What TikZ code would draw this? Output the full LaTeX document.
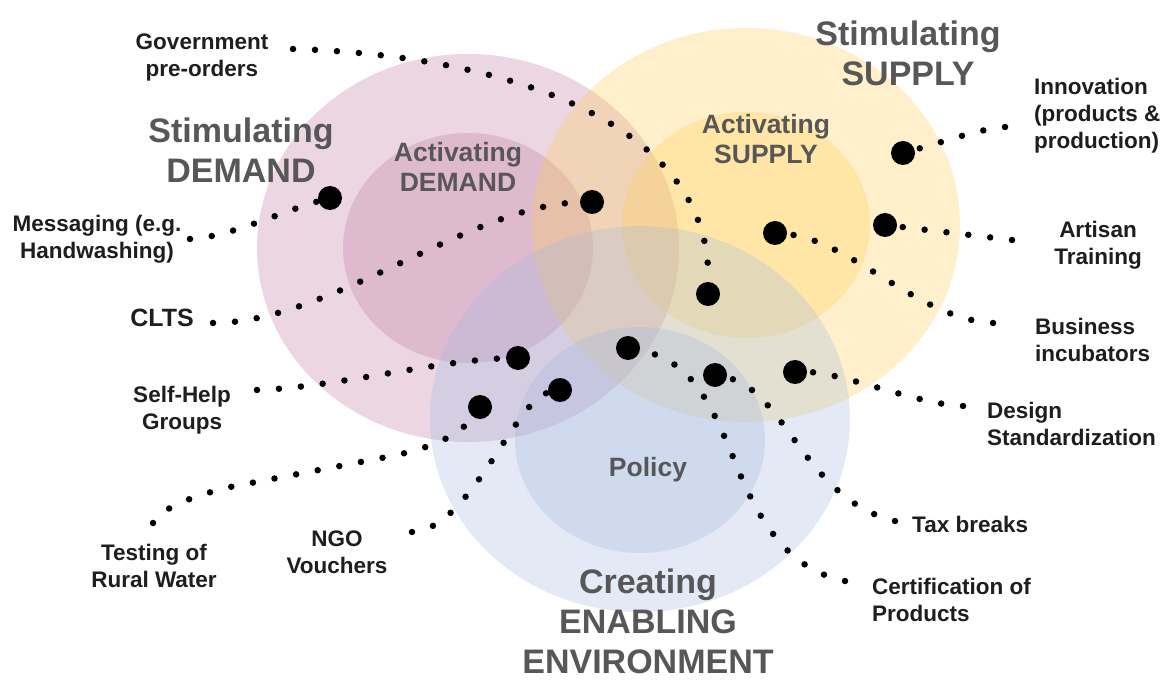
\documentclass[tikz,border=0pt]{standalone}
\usepackage{fontspec}
\setmainfont{Liberation Sans}
\definecolor{demandc}{HTML}{C07AA0}
\definecolor{supplyc}{HTML}{FFD055}
\definecolor{enablec}{HTML}{A5B9E1}
\definecolor{headc}{HTML}{575757}
\definecolor{labelc}{HTML}{1E1E1E}
\begin{document}
\begin{tikzpicture}[x=1pt,y=-1pt,
  dot/.style = {circle,fill=black,inner sep=0pt,minimum size=24pt},
  link/.style = {line width=6.5pt,line cap=round,dash pattern=on 0pt off 22pt},
  ring/.style = {fill opacity=0.3},
  circtitle/.style = {text=headc,font=\fontsize{34}{40}\selectfont\bfseries,align=center,inner sep=0pt},
  subtitle/.style = {text=headc,font=\fontsize{26.5}{30}\selectfont\bfseries,align=center,inner sep=0pt},
  itemlbl/.style = {text=labelc,font=\fontsize{22.5}{27}\selectfont\bfseries,inner sep=0pt}]
\fill[white] (0,0) rectangle (1162,684);
\useasboundingbox (0,0) rectangle (1162,684);

% the three pairs of rings
\fill[ring,demandc] (468,248) ellipse [x radius=211, y radius=194];
\fill[ring,demandc] (468,248) ellipse [x radius=125, y radius=115];
\fill[ring,supplyc] (746,225) ellipse [x radius=214, y radius=197];
\fill[ring,supplyc] (746,225) ellipse [x radius=124, y radius=113];
\fill[ring,enablec] (640,419) ellipse [x radius=210, y radius=193];
\fill[ring,enablec] (640,440) ellipse [x radius=125, y radius=113];

% titles
\node[circtitle] (t-demand) at (241,150) {Stimulating\\DEMAND};
\node[circtitle] (t-supply) at (908,53) {Stimulating\\SUPPLY};
\node[circtitle] (t-enable) at (648,621) {Creating\\ENABLING\\ENVIRONMENT};
\node[subtitle] (s-demand) at (458,167) {Activating\\DEMAND};
\node[subtitle] (s-supply) at (766,139) {Activating\\SUPPLY};
\node[subtitle] (s-policy) at (648,470) {Policy};

% activities
\foreach \n/\x/\y in {msg/330/198, clts/592/202, gov/708/294, inn/903/153,
                      art/885/225, biz/775/233, des/795/372, tax/715/375,
                      cert/628/348, shg/518/358, ngo/560/390, test/480/407}
    \node[dot] (d-\n) at (\x,\y) {};

\node[itemlbl,align=center] (l-gov) at (202,57) {Government\\pre-orders};
\node[itemlbl,align=center] (l-msg) at (97,239) {Messaging (e.g.\\Handwashing)};
\node[itemlbl,font=\fontsize{25}{30}\selectfont\bfseries] (l-clts) at (162,318) {CLTS};
\node[itemlbl,align=center] (l-shg) at (182,410) {Self-Help\\Groups};
\node[itemlbl,align=center] (l-test) at (154,566) {Testing of\\Rural Water};
\node[itemlbl,align=center] (l-ngo) at (337,552) {NGO\\Vouchers};
\node[itemlbl,align=left,anchor=west] (l-inn) at (1034,116) {Innovation\\(products \&\\production)};
\node[itemlbl,align=center] (l-art) at (1098,245) {Artisan\\Training};
\node[itemlbl,align=left,anchor=west] (l-biz) at (1035,340) {Business\\incubators};
\node[itemlbl,align=left,anchor=west] (l-des) at (987,424) {Design\\Standardization};
\node[itemlbl,anchor=west] (l-tax) at (912,524) {Tax breaks};
\node[itemlbl,align=left,anchor=west] (l-cert) at (872,600) {Certification of\\Products};

% loose ends of the dotted leads
\coordinate (e-gov) at (293,49);
\coordinate (e-msg) at (190,239);
\coordinate (e-clts) at (213,323);
\coordinate (e-shg) at (257,390);
\coordinate (e-test) at (153,523);
\coordinate (e-ngo) at (412,532);
\coordinate (e-inn) at (1005,127);
\coordinate (e-art) at (1012,240);
\coordinate (e-biz) at (993,323);
\coordinate (e-des) at (963,406);
\coordinate (e-tax) at (895,521);
\coordinate (e-cert) at (845,581);

\draw[link] (e-gov) .. controls (500,55) and (712,120) .. (d-gov);
\draw[link] (e-msg) .. controls (230,237) and (280,212) .. (d-msg);
\draw[link] (e-clts) .. controls (330,323) and (470,205) .. (d-clts);
\draw[link] (e-shg) .. controls (330,388) and (440,360) .. (d-shg);
\draw[link] (e-test) .. controls (160,510) and (185,498) .. (230,487) -- (392,456)
            .. controls (440,446) and (462,432) .. (d-test);
\draw[link] (e-ngo) .. controls (470,530) and (515,400) .. (d-ngo);
\draw[link] (e-inn) .. controls (975,130) and (950,140) .. (d-inn);
\draw[link] (e-art) -- (d-art);
\draw[link] (e-biz) .. controls (920,320) and (850,240) .. (d-biz);
\draw[link] (e-des) .. controls (920,405) and (840,372) .. (d-des);
\draw[link] (e-tax) .. controls (805,500) and (785,390) .. (d-tax);
\draw[link] (e-cert) .. controls (790,570) and (760,525) .. (735,462)
            .. controls (710,400) and (690,360) .. (d-cert);
\end{tikzpicture}
\end{document}
